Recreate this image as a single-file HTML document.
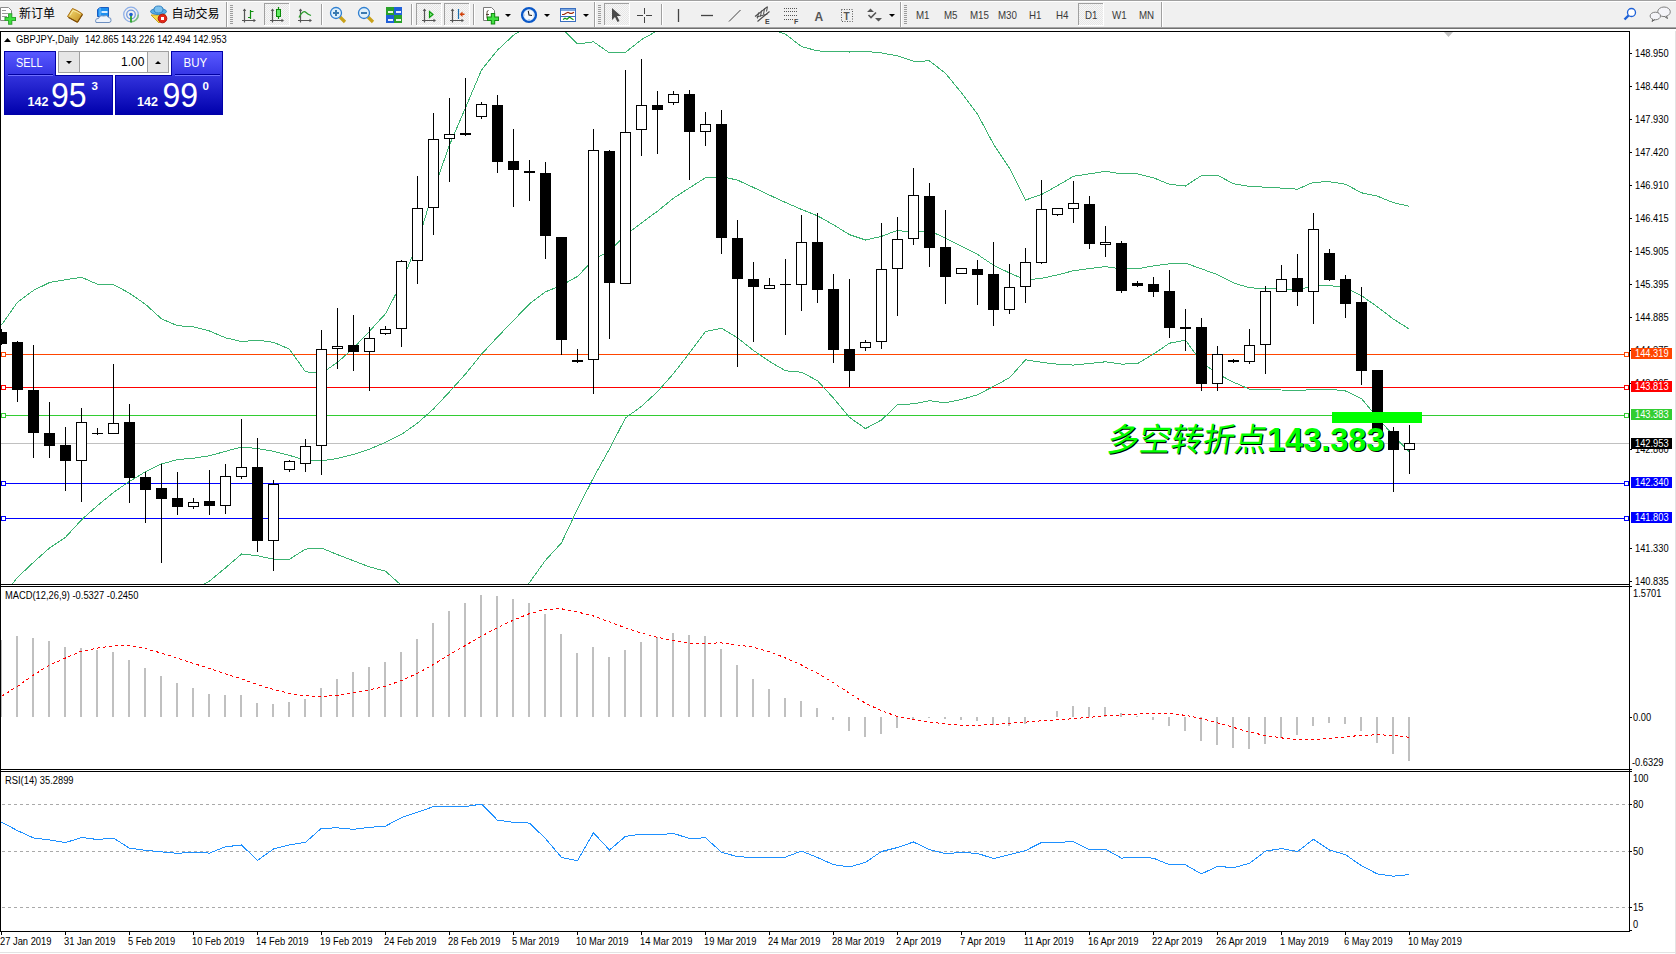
<!DOCTYPE html>
<html><head><meta charset="utf-8"><title>GBPJPY Daily</title>
<style>
html,body{margin:0;padding:0;background:#fff;}
body{width:1676px;height:954px;position:relative;overflow:hidden;}
svg text{white-space:pre;}
</style></head><body>
<svg width="1676" height="954" viewBox="0 0 1676 954" style="position:absolute;left:0;top:0">
<defs><clipPath id="cm"><rect x="1" y="32" width="1628" height="552"/></clipPath><clipPath id="cmacd"><rect x="1" y="587" width="1628" height="182"/></clipPath><clipPath id="crsi"><rect x="1" y="772" width="1628" height="159"/></clipPath></defs>
<g shape-rendering="crispEdges">
<rect x="1" y="443" width="1628" height="1" fill="#C0C0C0"/>
<rect x="1" y="354" width="1628" height="1" fill="#FF4500"/>
<rect x="1.5" y="352.5" width="4" height="4" fill="#fff" stroke="#FF4500" stroke-width="1"/>
<rect x="1624.5" y="352.5" width="4" height="4" fill="#fff" stroke="#FF4500" stroke-width="1"/>
<rect x="1" y="387" width="1628" height="1" fill="#FF0000"/>
<rect x="1.5" y="385.5" width="4" height="4" fill="#fff" stroke="#FF0000" stroke-width="1"/>
<rect x="1624.5" y="385.5" width="4" height="4" fill="#fff" stroke="#FF0000" stroke-width="1"/>
<rect x="1" y="415" width="1628" height="1" fill="#32CD32"/>
<rect x="1.5" y="413.5" width="4" height="4" fill="#fff" stroke="#32CD32" stroke-width="1"/>
<rect x="1624.5" y="413.5" width="4" height="4" fill="#fff" stroke="#32CD32" stroke-width="1"/>
<rect x="1" y="483" width="1628" height="1" fill="#0000FF"/>
<rect x="1.5" y="481.5" width="4" height="4" fill="#fff" stroke="#0000FF" stroke-width="1"/>
<rect x="1624.5" y="481.5" width="4" height="4" fill="#fff" stroke="#0000FF" stroke-width="1"/>
<rect x="1" y="518" width="1628" height="1" fill="#0000FF"/>
<rect x="1.5" y="516.5" width="4" height="4" fill="#fff" stroke="#0000FF" stroke-width="1"/>
<rect x="1624.5" y="516.5" width="4" height="4" fill="#fff" stroke="#0000FF" stroke-width="1"/>
</g>
<g clip-path="url(#cm)" fill="none" stroke="#3CB371" stroke-width="1" shape-rendering="crispEdges">
<polyline points="1.5,325.0 17.5,302.2 33.5,290.4 49.5,282.5 65.5,279.7 81.5,277.3 97.5,284.2 113.5,284.6 129.5,293.2 145.5,304.3 161.5,318.8 177.5,325.7 193.5,326.8 209.5,331.0 225.5,337.8 241.5,341.6 257.5,340.2 273.5,342.3 289.5,349.2 305.5,371.8 321.5,373.3 337.5,362.4 353.5,348.1 369.5,331.2 385.5,313.7 401.5,283.3 417.5,242.7 433.5,190.1 449.5,145.0 465.5,107.8 481.5,70.0 497.5,50.1 513.5,35.2 529.5,25.0 545.5,23.2 561.5,28.0 577.5,44.0 593.5,41.8 609.5,52.9 625.5,52.3 641.5,39.6 657.5,30.6 673.5,23.0 689.5,22.9 705.5,23.9 721.5,24.9 737.5,22.4 753.5,24.5 769.5,28.7 785.5,34.2 801.5,46.6 817.5,50.9 833.5,51.5 849.5,52.0 865.5,51.4 881.5,52.9 897.5,55.9 913.5,61.3 929.5,60.9 945.5,73.3 961.5,92.9 977.5,114.1 993.5,144.1 1009.5,168.2 1025.5,200.0 1041.5,194.6 1057.5,185.6 1073.5,176.3 1089.5,173.8 1105.5,171.3 1121.5,173.9 1137.5,173.9 1153.5,177.8 1169.5,184.3 1185.5,186.0 1201.5,175.5 1217.5,175.3 1233.5,183.7 1249.5,186.4 1265.5,187.2 1281.5,188.1 1297.5,189.2 1313.5,182.2 1329.5,181.8 1345.5,184.2 1361.5,192.8 1377.5,196.2 1393.5,202.7 1409.5,206.3"/>
<polyline points="1.5,598.0 17.5,577.4 33.5,562.3 49.5,548.0 65.5,537.3 81.5,519.8 97.5,505.6 113.5,492.4 129.5,481.4 145.5,471.7 161.5,464.0 177.5,459.6 193.5,458.2 209.5,455.8 225.5,451.3 241.5,447.1 257.5,448.5 273.5,451.3 289.5,455.4 305.5,460.4 321.5,460.7 337.5,458.5 353.5,454.4 369.5,449.1 385.5,442.4 401.5,434.4 417.5,423.1 433.5,408.9 449.5,391.8 465.5,374.0 481.5,354.2 497.5,337.0 513.5,320.4 529.5,303.8 545.5,291.8 561.5,285.4 577.5,276.4 593.5,259.8 609.5,250.8 625.5,235.2 641.5,222.9 657.5,211.2 673.5,198.2 689.5,187.9 705.5,177.7 721.5,176.6 737.5,180.1 753.5,187.5 769.5,195.1 785.5,202.5 801.5,209.4 817.5,215.8 833.5,224.8 849.5,234.7 865.5,240.0 881.5,236.4 897.5,230.3 913.5,232.6 929.5,230.8 945.5,238.1 961.5,246.2 977.5,254.4 993.5,265.2 1009.5,273.0 1025.5,279.9 1041.5,278.4 1057.5,274.9 1073.5,270.7 1089.5,268.6 1105.5,266.6 1121.5,269.0 1137.5,268.8 1153.5,265.9 1169.5,263.8 1185.5,263.1 1201.5,268.9 1217.5,274.6 1233.5,282.9 1249.5,287.8 1265.5,288.5 1281.5,289.1 1297.5,289.9 1313.5,285.9 1329.5,285.5 1345.5,287.6 1361.5,295.7 1377.5,306.9 1393.5,319.2 1409.5,329.2"/>
<polyline points="1.5,700.0 17.5,680.0 33.5,660.0 49.5,640.0 65.5,625.0 81.5,612.0 97.5,605.0 113.5,600.0 129.5,598.0 145.5,598.0 161.5,598.0 177.5,596.0 193.5,590.0 209.5,581.0 225.5,567.9 241.5,554.0 257.5,555.7 273.5,559.2 289.5,559.2 305.5,549.1 321.5,548.1 337.5,554.6 353.5,560.8 369.5,566.9 385.5,571.2 401.5,585.5 417.5,603.6 433.5,627.8 449.5,638.5 465.5,640.2 481.5,638.5 497.5,623.9 513.5,605.6 529.5,582.5 545.5,560.3 561.5,542.8 577.5,508.9 593.5,477.7 609.5,448.8 625.5,418.0 641.5,406.3 657.5,391.7 673.5,373.5 689.5,353.0 705.5,331.5 721.5,328.2 737.5,337.8 753.5,350.5 769.5,361.4 785.5,370.8 801.5,372.2 817.5,380.7 833.5,398.1 849.5,417.4 865.5,428.6 881.5,420.0 897.5,404.7 913.5,403.8 929.5,400.7 945.5,402.8 961.5,399.5 977.5,394.8 993.5,386.4 1009.5,377.8 1025.5,359.8 1041.5,362.3 1057.5,364.2 1073.5,365.1 1089.5,363.5 1105.5,361.8 1121.5,364.1 1137.5,363.7 1153.5,354.0 1169.5,343.2 1185.5,340.2 1201.5,362.2 1217.5,373.9 1233.5,382.2 1249.5,389.2 1265.5,389.8 1281.5,390.0 1297.5,390.6 1313.5,389.5 1329.5,389.2 1345.5,391.0 1361.5,398.6 1377.5,417.6 1393.5,435.8 1409.5,452.1"/>
</g>
<g clip-path="url(#cm)" shape-rendering="crispEdges">
<rect x="1" y="329" width="1" height="16" fill="#000"/>
<rect x="-4" y="332" width="11" height="12" fill="#000"/>
<rect x="17" y="341" width="1" height="61" fill="#000"/>
<rect x="12" y="342" width="11" height="48" fill="#000"/>
<rect x="33" y="345" width="1" height="113" fill="#000"/>
<rect x="28" y="390" width="11" height="43" fill="#000"/>
<rect x="49" y="402" width="1" height="56" fill="#000"/>
<rect x="44" y="433" width="11" height="13" fill="#000"/>
<rect x="65" y="427" width="1" height="64" fill="#000"/>
<rect x="60" y="445" width="11" height="16" fill="#000"/>
<rect x="81" y="408" width="1" height="94" fill="#000"/>
<rect x="76" y="422" width="11" height="39" fill="#000"/>
<rect x="77" y="423" width="9" height="37" fill="#fff"/>
<rect x="97" y="428" width="1" height="7" fill="#000"/>
<rect x="92" y="433" width="11" height="1" fill="#000"/>
<rect x="113" y="364" width="1" height="70" fill="#000"/>
<rect x="108" y="423" width="11" height="11" fill="#000"/>
<rect x="109" y="424" width="9" height="9" fill="#fff"/>
<rect x="129" y="404" width="1" height="99" fill="#000"/>
<rect x="124" y="422" width="11" height="56" fill="#000"/>
<rect x="145" y="472" width="1" height="51" fill="#000"/>
<rect x="140" y="477" width="11" height="13" fill="#000"/>
<rect x="161" y="464" width="1" height="99" fill="#000"/>
<rect x="156" y="488" width="11" height="11" fill="#000"/>
<rect x="177" y="472" width="1" height="43" fill="#000"/>
<rect x="172" y="498" width="11" height="9" fill="#000"/>
<rect x="193" y="498" width="1" height="11" fill="#000"/>
<rect x="188" y="502" width="11" height="5" fill="#000"/>
<rect x="189" y="503" width="9" height="3" fill="#fff"/>
<rect x="209" y="470" width="1" height="45" fill="#000"/>
<rect x="204" y="501" width="11" height="5" fill="#000"/>
<rect x="225" y="464" width="1" height="50" fill="#000"/>
<rect x="220" y="476" width="11" height="30" fill="#000"/>
<rect x="221" y="477" width="9" height="28" fill="#fff"/>
<rect x="241" y="419" width="1" height="60" fill="#000"/>
<rect x="236" y="467" width="11" height="10" fill="#000"/>
<rect x="237" y="468" width="9" height="8" fill="#fff"/>
<rect x="257" y="438" width="1" height="114" fill="#000"/>
<rect x="252" y="467" width="11" height="74" fill="#000"/>
<rect x="273" y="480" width="1" height="91" fill="#000"/>
<rect x="268" y="484" width="11" height="57" fill="#000"/>
<rect x="269" y="485" width="9" height="55" fill="#fff"/>
<rect x="289" y="460" width="1" height="12" fill="#000"/>
<rect x="284" y="461" width="11" height="9" fill="#000"/>
<rect x="285" y="462" width="9" height="7" fill="#fff"/>
<rect x="305" y="439" width="1" height="33" fill="#000"/>
<rect x="300" y="446" width="11" height="18" fill="#000"/>
<rect x="301" y="447" width="9" height="16" fill="#fff"/>
<rect x="321" y="330" width="1" height="145" fill="#000"/>
<rect x="316" y="349" width="11" height="97" fill="#000"/>
<rect x="317" y="350" width="9" height="95" fill="#fff"/>
<rect x="337" y="308" width="1" height="61" fill="#000"/>
<rect x="332" y="346" width="11" height="3" fill="#000"/>
<rect x="333" y="347" width="9" height="1" fill="#fff"/>
<rect x="353" y="315" width="1" height="56" fill="#000"/>
<rect x="348" y="345" width="11" height="7" fill="#000"/>
<rect x="369" y="327" width="1" height="64" fill="#000"/>
<rect x="364" y="338" width="11" height="14" fill="#000"/>
<rect x="365" y="339" width="9" height="12" fill="#fff"/>
<rect x="385" y="326" width="1" height="9" fill="#000"/>
<rect x="380" y="329" width="11" height="5" fill="#000"/>
<rect x="381" y="330" width="9" height="3" fill="#fff"/>
<rect x="401" y="260" width="1" height="87" fill="#000"/>
<rect x="396" y="261" width="11" height="68" fill="#000"/>
<rect x="397" y="262" width="9" height="66" fill="#fff"/>
<rect x="417" y="176" width="1" height="108" fill="#000"/>
<rect x="412" y="208" width="11" height="53" fill="#000"/>
<rect x="413" y="209" width="9" height="51" fill="#fff"/>
<rect x="433" y="113" width="1" height="122" fill="#000"/>
<rect x="428" y="139" width="11" height="69" fill="#000"/>
<rect x="429" y="140" width="9" height="67" fill="#fff"/>
<rect x="449" y="98" width="1" height="84" fill="#000"/>
<rect x="444" y="134" width="11" height="5" fill="#000"/>
<rect x="445" y="135" width="9" height="3" fill="#fff"/>
<rect x="465" y="78" width="1" height="58" fill="#000"/>
<rect x="460" y="133" width="11" height="2" fill="#000"/>
<rect x="481" y="102" width="1" height="17" fill="#000"/>
<rect x="476" y="104" width="11" height="13" fill="#000"/>
<rect x="477" y="105" width="9" height="11" fill="#fff"/>
<rect x="497" y="95" width="1" height="78" fill="#000"/>
<rect x="492" y="105" width="11" height="57" fill="#000"/>
<rect x="513" y="129" width="1" height="78" fill="#000"/>
<rect x="508" y="161" width="11" height="9" fill="#000"/>
<rect x="529" y="160" width="1" height="41" fill="#000"/>
<rect x="524" y="171" width="11" height="2" fill="#000"/>
<rect x="545" y="162" width="1" height="97" fill="#000"/>
<rect x="540" y="173" width="11" height="63" fill="#000"/>
<rect x="561" y="237" width="1" height="118" fill="#000"/>
<rect x="556" y="237" width="11" height="103" fill="#000"/>
<rect x="577" y="349" width="1" height="14" fill="#000"/>
<rect x="572" y="360" width="11" height="2" fill="#000"/>
<rect x="593" y="129" width="1" height="265" fill="#000"/>
<rect x="588" y="150" width="11" height="210" fill="#000"/>
<rect x="589" y="151" width="9" height="208" fill="#fff"/>
<rect x="609" y="150" width="1" height="189" fill="#000"/>
<rect x="604" y="151" width="11" height="132" fill="#000"/>
<rect x="625" y="70" width="1" height="214" fill="#000"/>
<rect x="620" y="132" width="11" height="152" fill="#000"/>
<rect x="621" y="133" width="9" height="150" fill="#fff"/>
<rect x="641" y="59" width="1" height="97" fill="#000"/>
<rect x="636" y="105" width="11" height="25" fill="#000"/>
<rect x="637" y="106" width="9" height="23" fill="#fff"/>
<rect x="657" y="91" width="1" height="63" fill="#000"/>
<rect x="652" y="105" width="11" height="5" fill="#000"/>
<rect x="673" y="91" width="1" height="14" fill="#000"/>
<rect x="668" y="94" width="11" height="9" fill="#000"/>
<rect x="669" y="95" width="9" height="7" fill="#fff"/>
<rect x="689" y="90" width="1" height="90" fill="#000"/>
<rect x="684" y="94" width="11" height="38" fill="#000"/>
<rect x="705" y="112" width="1" height="34" fill="#000"/>
<rect x="700" y="124" width="11" height="8" fill="#000"/>
<rect x="701" y="125" width="9" height="6" fill="#fff"/>
<rect x="721" y="110" width="1" height="144" fill="#000"/>
<rect x="716" y="124" width="11" height="114" fill="#000"/>
<rect x="737" y="220" width="1" height="147" fill="#000"/>
<rect x="732" y="238" width="11" height="41" fill="#000"/>
<rect x="753" y="262" width="1" height="80" fill="#000"/>
<rect x="748" y="279" width="11" height="8" fill="#000"/>
<rect x="769" y="278" width="1" height="11" fill="#000"/>
<rect x="764" y="285" width="11" height="4" fill="#000"/>
<rect x="765" y="286" width="9" height="2" fill="#fff"/>
<rect x="785" y="259" width="1" height="76" fill="#000"/>
<rect x="780" y="284" width="11" height="1" fill="#000"/>
<rect x="801" y="215" width="1" height="96" fill="#000"/>
<rect x="796" y="242" width="11" height="43" fill="#000"/>
<rect x="797" y="243" width="9" height="41" fill="#fff"/>
<rect x="817" y="213" width="1" height="90" fill="#000"/>
<rect x="812" y="242" width="11" height="48" fill="#000"/>
<rect x="833" y="274" width="1" height="89" fill="#000"/>
<rect x="828" y="289" width="11" height="61" fill="#000"/>
<rect x="849" y="279" width="1" height="108" fill="#000"/>
<rect x="844" y="349" width="11" height="22" fill="#000"/>
<rect x="865" y="340" width="1" height="11" fill="#000"/>
<rect x="860" y="342" width="11" height="6" fill="#000"/>
<rect x="861" y="343" width="9" height="4" fill="#fff"/>
<rect x="881" y="223" width="1" height="126" fill="#000"/>
<rect x="876" y="269" width="11" height="73" fill="#000"/>
<rect x="877" y="270" width="9" height="71" fill="#fff"/>
<rect x="897" y="217" width="1" height="99" fill="#000"/>
<rect x="892" y="239" width="11" height="30" fill="#000"/>
<rect x="893" y="240" width="9" height="28" fill="#fff"/>
<rect x="913" y="168" width="1" height="77" fill="#000"/>
<rect x="908" y="195" width="11" height="44" fill="#000"/>
<rect x="909" y="196" width="9" height="42" fill="#fff"/>
<rect x="929" y="183" width="1" height="84" fill="#000"/>
<rect x="924" y="196" width="11" height="52" fill="#000"/>
<rect x="945" y="210" width="1" height="94" fill="#000"/>
<rect x="940" y="247" width="11" height="30" fill="#000"/>
<rect x="961" y="268" width="1" height="6" fill="#000"/>
<rect x="956" y="268" width="11" height="6" fill="#000"/>
<rect x="957" y="269" width="9" height="4" fill="#fff"/>
<rect x="977" y="260" width="1" height="45" fill="#000"/>
<rect x="972" y="269" width="11" height="6" fill="#000"/>
<rect x="993" y="242" width="1" height="84" fill="#000"/>
<rect x="988" y="274" width="11" height="36" fill="#000"/>
<rect x="1009" y="264" width="1" height="50" fill="#000"/>
<rect x="1004" y="287" width="11" height="23" fill="#000"/>
<rect x="1005" y="288" width="9" height="21" fill="#fff"/>
<rect x="1025" y="248" width="1" height="55" fill="#000"/>
<rect x="1020" y="262" width="11" height="25" fill="#000"/>
<rect x="1021" y="263" width="9" height="23" fill="#fff"/>
<rect x="1041" y="180" width="1" height="84" fill="#000"/>
<rect x="1036" y="209" width="11" height="54" fill="#000"/>
<rect x="1037" y="210" width="9" height="52" fill="#fff"/>
<rect x="1057" y="208" width="1" height="8" fill="#000"/>
<rect x="1052" y="208" width="11" height="7" fill="#000"/>
<rect x="1053" y="209" width="9" height="5" fill="#fff"/>
<rect x="1073" y="181" width="1" height="42" fill="#000"/>
<rect x="1068" y="203" width="11" height="6" fill="#000"/>
<rect x="1069" y="204" width="9" height="4" fill="#fff"/>
<rect x="1089" y="196" width="1" height="53" fill="#000"/>
<rect x="1084" y="204" width="11" height="40" fill="#000"/>
<rect x="1105" y="226" width="1" height="31" fill="#000"/>
<rect x="1100" y="242" width="11" height="3" fill="#000"/>
<rect x="1101" y="243" width="9" height="1" fill="#fff"/>
<rect x="1121" y="241" width="1" height="52" fill="#000"/>
<rect x="1116" y="243" width="11" height="48" fill="#000"/>
<rect x="1137" y="281" width="1" height="6" fill="#000"/>
<rect x="1132" y="283" width="11" height="3" fill="#000"/>
<rect x="1153" y="277" width="1" height="20" fill="#000"/>
<rect x="1148" y="284" width="11" height="8" fill="#000"/>
<rect x="1169" y="270" width="1" height="68" fill="#000"/>
<rect x="1164" y="291" width="11" height="37" fill="#000"/>
<rect x="1185" y="309" width="1" height="42" fill="#000"/>
<rect x="1180" y="327" width="11" height="2" fill="#000"/>
<rect x="1201" y="318" width="1" height="73" fill="#000"/>
<rect x="1196" y="327" width="11" height="57" fill="#000"/>
<rect x="1217" y="346" width="1" height="45" fill="#000"/>
<rect x="1212" y="354" width="11" height="30" fill="#000"/>
<rect x="1213" y="355" width="9" height="28" fill="#fff"/>
<rect x="1233" y="359" width="1" height="4" fill="#000"/>
<rect x="1228" y="360" width="11" height="2" fill="#000"/>
<rect x="1249" y="329" width="1" height="35" fill="#000"/>
<rect x="1244" y="345" width="11" height="17" fill="#000"/>
<rect x="1245" y="346" width="9" height="15" fill="#fff"/>
<rect x="1265" y="286" width="1" height="88" fill="#000"/>
<rect x="1260" y="291" width="11" height="54" fill="#000"/>
<rect x="1261" y="292" width="9" height="52" fill="#fff"/>
<rect x="1281" y="265" width="1" height="27" fill="#000"/>
<rect x="1276" y="279" width="11" height="13" fill="#000"/>
<rect x="1277" y="280" width="9" height="11" fill="#fff"/>
<rect x="1297" y="254" width="1" height="52" fill="#000"/>
<rect x="1292" y="278" width="11" height="14" fill="#000"/>
<rect x="1313" y="213" width="1" height="111" fill="#000"/>
<rect x="1308" y="229" width="11" height="63" fill="#000"/>
<rect x="1309" y="230" width="9" height="61" fill="#fff"/>
<rect x="1329" y="249" width="1" height="32" fill="#000"/>
<rect x="1324" y="253" width="11" height="27" fill="#000"/>
<rect x="1345" y="275" width="1" height="43" fill="#000"/>
<rect x="1340" y="279" width="11" height="25" fill="#000"/>
<rect x="1361" y="287" width="1" height="98" fill="#000"/>
<rect x="1356" y="302" width="11" height="69" fill="#000"/>
<rect x="1377" y="370" width="1" height="62" fill="#000"/>
<rect x="1372" y="370" width="11" height="62" fill="#000"/>
<rect x="1393" y="427" width="1" height="65" fill="#000"/>
<rect x="1388" y="431" width="11" height="19" fill="#000"/>
<rect x="1409" y="425" width="1" height="49" fill="#000"/>
<rect x="1404" y="443" width="11" height="7" fill="#000"/>
<rect x="1405" y="444" width="9" height="5" fill="#fff"/>
</g>
<g clip-path="url(#cmacd)" shape-rendering="crispEdges">
<rect x="0" y="640" width="2" height="77" fill="#C0C0C0"/>
<rect x="16" y="636" width="2" height="81" fill="#C0C0C0"/>
<rect x="32" y="638" width="2" height="79" fill="#C0C0C0"/>
<rect x="48" y="641" width="2" height="76" fill="#C0C0C0"/>
<rect x="64" y="647" width="2" height="70" fill="#C0C0C0"/>
<rect x="80" y="648" width="2" height="69" fill="#C0C0C0"/>
<rect x="96" y="650" width="2" height="67" fill="#C0C0C0"/>
<rect x="112" y="652" width="2" height="65" fill="#C0C0C0"/>
<rect x="128" y="660" width="2" height="57" fill="#C0C0C0"/>
<rect x="144" y="668" width="2" height="49" fill="#C0C0C0"/>
<rect x="160" y="676" width="2" height="41" fill="#C0C0C0"/>
<rect x="176" y="683" width="2" height="34" fill="#C0C0C0"/>
<rect x="192" y="688" width="2" height="29" fill="#C0C0C0"/>
<rect x="208" y="694" width="2" height="23" fill="#C0C0C0"/>
<rect x="224" y="695" width="2" height="22" fill="#C0C0C0"/>
<rect x="240" y="695" width="2" height="22" fill="#C0C0C0"/>
<rect x="256" y="703" width="2" height="14" fill="#C0C0C0"/>
<rect x="272" y="704" width="2" height="13" fill="#C0C0C0"/>
<rect x="288" y="702" width="2" height="15" fill="#C0C0C0"/>
<rect x="304" y="699" width="2" height="18" fill="#C0C0C0"/>
<rect x="320" y="688" width="2" height="29" fill="#C0C0C0"/>
<rect x="336" y="679" width="2" height="38" fill="#C0C0C0"/>
<rect x="352" y="672" width="2" height="45" fill="#C0C0C0"/>
<rect x="368" y="667" width="2" height="50" fill="#C0C0C0"/>
<rect x="384" y="662" width="2" height="55" fill="#C0C0C0"/>
<rect x="400" y="652" width="2" height="65" fill="#C0C0C0"/>
<rect x="416" y="639" width="2" height="78" fill="#C0C0C0"/>
<rect x="432" y="623" width="2" height="94" fill="#C0C0C0"/>
<rect x="448" y="611" width="2" height="106" fill="#C0C0C0"/>
<rect x="464" y="603" width="2" height="114" fill="#C0C0C0"/>
<rect x="480" y="595" width="2" height="122" fill="#C0C0C0"/>
<rect x="496" y="596" width="2" height="121" fill="#C0C0C0"/>
<rect x="512" y="599" width="2" height="118" fill="#C0C0C0"/>
<rect x="528" y="603" width="2" height="114" fill="#C0C0C0"/>
<rect x="544" y="614" width="2" height="103" fill="#C0C0C0"/>
<rect x="560" y="634" width="2" height="83" fill="#C0C0C0"/>
<rect x="576" y="653" width="2" height="64" fill="#C0C0C0"/>
<rect x="592" y="647" width="2" height="70" fill="#C0C0C0"/>
<rect x="608" y="657" width="2" height="60" fill="#C0C0C0"/>
<rect x="624" y="650" width="2" height="67" fill="#C0C0C0"/>
<rect x="640" y="642" width="2" height="75" fill="#C0C0C0"/>
<rect x="656" y="637" width="2" height="80" fill="#C0C0C0"/>
<rect x="672" y="633" width="2" height="84" fill="#C0C0C0"/>
<rect x="688" y="635" width="2" height="82" fill="#C0C0C0"/>
<rect x="704" y="636" width="2" height="81" fill="#C0C0C0"/>
<rect x="720" y="649" width="2" height="68" fill="#C0C0C0"/>
<rect x="736" y="665" width="2" height="52" fill="#C0C0C0"/>
<rect x="752" y="679" width="2" height="38" fill="#C0C0C0"/>
<rect x="768" y="689" width="2" height="28" fill="#C0C0C0"/>
<rect x="784" y="698" width="2" height="19" fill="#C0C0C0"/>
<rect x="800" y="701" width="2" height="16" fill="#C0C0C0"/>
<rect x="816" y="708" width="2" height="9" fill="#C0C0C0"/>
<rect x="832" y="717" width="2" height="3" fill="#C0C0C0"/>
<rect x="848" y="717" width="2" height="14" fill="#C0C0C0"/>
<rect x="864" y="717" width="2" height="20" fill="#C0C0C0"/>
<rect x="880" y="717" width="2" height="17" fill="#C0C0C0"/>
<rect x="896" y="717" width="2" height="11" fill="#C0C0C0"/>
<rect x="912" y="717" width="2" height="2" fill="#C0C0C0"/>
<rect x="928" y="717" width="2" height="1" fill="#C0C0C0"/>
<rect x="944" y="717" width="2" height="2" fill="#C0C0C0"/>
<rect x="960" y="717" width="2" height="3" fill="#C0C0C0"/>
<rect x="976" y="717" width="2" height="4" fill="#C0C0C0"/>
<rect x="992" y="717" width="2" height="8" fill="#C0C0C0"/>
<rect x="1008" y="717" width="2" height="9" fill="#C0C0C0"/>
<rect x="1024" y="717" width="2" height="7" fill="#C0C0C0"/>
<rect x="1040" y="717" width="2" height="0" fill="#C0C0C0"/>
<rect x="1056" y="711" width="2" height="6" fill="#C0C0C0"/>
<rect x="1072" y="706" width="2" height="11" fill="#C0C0C0"/>
<rect x="1088" y="707" width="2" height="10" fill="#C0C0C0"/>
<rect x="1104" y="707" width="2" height="10" fill="#C0C0C0"/>
<rect x="1120" y="713" width="2" height="4" fill="#C0C0C0"/>
<rect x="1136" y="716" width="2" height="1" fill="#C0C0C0"/>
<rect x="1152" y="717" width="2" height="3" fill="#C0C0C0"/>
<rect x="1168" y="717" width="2" height="9" fill="#C0C0C0"/>
<rect x="1184" y="717" width="2" height="14" fill="#C0C0C0"/>
<rect x="1200" y="717" width="2" height="24" fill="#C0C0C0"/>
<rect x="1216" y="717" width="2" height="28" fill="#C0C0C0"/>
<rect x="1232" y="717" width="2" height="31" fill="#C0C0C0"/>
<rect x="1248" y="717" width="2" height="32" fill="#C0C0C0"/>
<rect x="1264" y="717" width="2" height="27" fill="#C0C0C0"/>
<rect x="1280" y="717" width="2" height="21" fill="#C0C0C0"/>
<rect x="1296" y="717" width="2" height="18" fill="#C0C0C0"/>
<rect x="1312" y="717" width="2" height="9" fill="#C0C0C0"/>
<rect x="1328" y="717" width="2" height="6" fill="#C0C0C0"/>
<rect x="1344" y="717" width="2" height="7" fill="#C0C0C0"/>
<rect x="1360" y="717" width="2" height="14" fill="#C0C0C0"/>
<rect x="1376" y="717" width="2" height="26" fill="#C0C0C0"/>
<rect x="1392" y="717" width="2" height="37" fill="#C0C0C0"/>
<rect x="1408" y="717" width="2" height="44" fill="#C0C0C0"/>
<polyline points="1.5,696.3 17.5,686.3 33.5,675.1 49.5,665.0 65.5,658.0 81.5,651.2 97.5,648.1 113.5,645.8 129.5,645.6 145.5,648.7 161.5,653.1 177.5,658.2 193.5,663.4 209.5,668.6 225.5,673.9 241.5,678.9 257.5,684.6 273.5,689.5 289.5,693.3 305.5,695.9 321.5,696.5 337.5,695.4 353.5,693.0 369.5,689.9 385.5,686.2 401.5,680.5 417.5,673.3 433.5,664.5 449.5,654.8 465.5,645.4 481.5,636.1 497.5,627.7 513.5,620.1 529.5,613.6 545.5,609.4 561.5,608.8 577.5,612.0 593.5,616.0 609.5,621.9 625.5,627.9 641.5,633.0 657.5,637.3 673.5,640.7 689.5,643.0 705.5,643.2 721.5,642.9 737.5,644.9 753.5,647.3 769.5,651.7 785.5,658.0 801.5,665.0 817.5,673.3 833.5,682.8 849.5,693.4 865.5,703.2 881.5,710.9 897.5,716.4 913.5,719.8 929.5,721.9 945.5,724.0 961.5,725.3 977.5,725.3 993.5,724.6 1009.5,723.3 1025.5,722.1 1041.5,720.8 1057.5,719.9 1073.5,718.7 1089.5,717.3 1105.5,715.9 1121.5,715.0 1137.5,714.1 1153.5,713.4 1169.5,713.7 1185.5,715.3 1201.5,718.6 1217.5,722.8 1233.5,727.4 1249.5,732.1 1265.5,735.5 1281.5,737.9 1297.5,739.6 1313.5,739.5 1329.5,738.7 1345.5,736.8 1361.5,735.4 1377.5,734.8 1393.5,735.3 1409.5,737.3" fill="none" stroke="#FF0000" stroke-width="1" stroke-dasharray="3 3"/>
</g>
<g clip-path="url(#crsi)" shape-rendering="crispEdges">
<line x1="2" y1="804.5" x2="1629" y2="804.5" stroke="#A9A9A9" stroke-width="1" stroke-dasharray="3 3"/>
<line x1="2" y1="851.5" x2="1629" y2="851.5" stroke="#A9A9A9" stroke-width="1" stroke-dasharray="3 3"/>
<line x1="2" y1="907.5" x2="1629" y2="907.5" stroke="#A9A9A9" stroke-width="1" stroke-dasharray="3 3"/>
<polyline points="1.5,822.2 17.5,830.6 33.5,837.9 49.5,840.0 65.5,842.6 81.5,837.5 97.5,839.5 113.5,838.1 129.5,848.2 145.5,850.3 161.5,851.9 177.5,853.3 193.5,852.3 209.5,853.1 225.5,846.8 241.5,845.0 257.5,860.4 273.5,849.0 289.5,844.9 305.5,842.3 321.5,828.2 337.5,827.9 353.5,829.3 369.5,827.4 385.5,826.1 401.5,817.6 417.5,812.3 433.5,806.6 449.5,806.2 465.5,806.5 481.5,804.1 497.5,820.2 513.5,822.3 529.5,823.1 545.5,838.6 561.5,857.4 577.5,860.7 593.5,832.8 609.5,850.0 625.5,836.3 641.5,834.2 657.5,834.8 673.5,833.4 689.5,838.6 705.5,837.8 721.5,852.2 737.5,856.7 753.5,857.5 769.5,857.3 785.5,857.1 801.5,851.1 817.5,857.5 833.5,864.7 849.5,867.0 865.5,862.3 881.5,851.5 897.5,847.5 913.5,842.0 929.5,849.7 945.5,853.7 961.5,852.4 977.5,853.4 993.5,858.6 1009.5,854.7 1025.5,850.6 1041.5,842.5 1057.5,842.4 1073.5,841.6 1089.5,849.6 1105.5,849.2 1121.5,858.1 1137.5,857.1 1153.5,858.2 1169.5,864.7 1185.5,864.9 1201.5,873.9 1217.5,866.3 1233.5,867.7 1249.5,863.3 1265.5,851.1 1281.5,848.6 1297.5,851.5 1313.5,839.3 1329.5,850.1 1345.5,854.7 1361.5,865.8 1377.5,874.0 1393.5,876.2 1409.5,874.5" fill="none" stroke="#1E90FF" stroke-width="1"/>
</g>
<g shape-rendering="crispEdges" fill="#000">
<rect x="0" y="31" width="1630" height="1"/>
<rect x="0" y="31" width="1" height="901"/>
<rect x="1629" y="31" width="1" height="901"/>
<rect x="0" y="584" width="1630" height="1"/>
<rect x="0" y="586" width="1630" height="1"/>
<rect x="0" y="769" width="1630" height="1"/>
<rect x="0" y="771" width="1630" height="1"/>
<rect x="0" y="931" width="1630" height="1"/>
</g>
<defs><clipPath id="cax"><rect x="1630" y="30" width="46" height="556"/></clipPath></defs>
<g font-family="Liberation Sans, DejaVu Sans, sans-serif" font-size="10" fill="#000" clip-path="url(#cax)">
<rect x="1630" y="53" width="2" height="1" shape-rendering="crispEdges"/>
<text transform="translate(1635,57) scale(0.93,1)" >148.950</text>
<rect x="1630" y="86" width="2" height="1" shape-rendering="crispEdges"/>
<text transform="translate(1635,90) scale(0.93,1)" >148.440</text>
<rect x="1630" y="119" width="2" height="1" shape-rendering="crispEdges"/>
<text transform="translate(1635,123) scale(0.93,1)" >147.930</text>
<rect x="1630" y="152" width="2" height="1" shape-rendering="crispEdges"/>
<text transform="translate(1635,156) scale(0.93,1)" >147.420</text>
<rect x="1630" y="185" width="2" height="1" shape-rendering="crispEdges"/>
<text transform="translate(1635,189) scale(0.93,1)" >146.910</text>
<rect x="1630" y="218" width="2" height="1" shape-rendering="crispEdges"/>
<text transform="translate(1635,222) scale(0.93,1)" >146.415</text>
<rect x="1630" y="251" width="2" height="1" shape-rendering="crispEdges"/>
<text transform="translate(1635,255) scale(0.93,1)" >145.905</text>
<rect x="1630" y="284" width="2" height="1" shape-rendering="crispEdges"/>
<text transform="translate(1635,288) scale(0.93,1)" >145.395</text>
<rect x="1630" y="317" width="2" height="1" shape-rendering="crispEdges"/>
<text transform="translate(1635,321) scale(0.93,1)" >144.885</text>
<rect x="1630" y="350" width="2" height="1" shape-rendering="crispEdges"/>
<text transform="translate(1635,354) scale(0.93,1)" >144.375</text>
<rect x="1630" y="383" width="2" height="1" shape-rendering="crispEdges"/>
<text transform="translate(1635,387) scale(0.93,1)" >143.865</text>
<rect x="1630" y="449" width="2" height="1" shape-rendering="crispEdges"/>
<text transform="translate(1635,453) scale(0.93,1)" >142.860</text>
<rect x="1630" y="548" width="2" height="1" shape-rendering="crispEdges"/>
<text transform="translate(1635,552) scale(0.93,1)" >141.330</text>
<rect x="1630" y="581" width="2" height="1" shape-rendering="crispEdges"/>
<text transform="translate(1635,585) scale(0.93,1)" >140.835</text>
</g>
<g font-family="Liberation Sans, DejaVu Sans, sans-serif" font-size="10">
<rect x="1631" y="348" width="41" height="11" fill="#FF4500" shape-rendering="crispEdges"/>
<text transform="translate(1635,357) scale(0.93,1)" fill="#fff">144.319</text>
<rect x="1631" y="381" width="41" height="11" fill="#FF0000" shape-rendering="crispEdges"/>
<text transform="translate(1635,390) scale(0.93,1)" fill="#fff">143.813</text>
<rect x="1631" y="409" width="41" height="11" fill="#32CD32" shape-rendering="crispEdges"/>
<text transform="translate(1635,418) scale(0.93,1)" fill="#fff">143.383</text>
<rect x="1631" y="438" width="41" height="11" fill="#000000" shape-rendering="crispEdges"/>
<text transform="translate(1635,447) scale(0.93,1)" fill="#fff">142.953</text>
<rect x="1631" y="477" width="41" height="11" fill="#0000FF" shape-rendering="crispEdges"/>
<text transform="translate(1635,486) scale(0.93,1)" fill="#fff">142.340</text>
<rect x="1631" y="512" width="41" height="11" fill="#0000FF" shape-rendering="crispEdges"/>
<text transform="translate(1635,521) scale(0.93,1)" fill="#fff">141.803</text>
</g>
<g font-family="Liberation Sans, DejaVu Sans, sans-serif" font-size="10" fill="#000">
<text transform="translate(1633,597) scale(0.93,1)" >1.5701</text>
<rect x="1630" y="717" width="2" height="1"/><text transform="translate(1633,721) scale(0.93,1)" >0.00</text>
<text transform="translate(1632,766) scale(0.93,1)" >-0.6329</text>
<text transform="translate(1633,782) scale(0.93,1)" >100</text>
<text transform="translate(1633,808) scale(0.93,1)" >80</text>
<text transform="translate(1633,855) scale(0.93,1)" >50</text>
<text transform="translate(1633,911) scale(0.93,1)" >15</text>
<text transform="translate(1633,928) scale(0.93,1)" >0</text>
<rect x="1630" y="586" width="2" height="1" shape-rendering="crispEdges"/>
<rect x="1630" y="769" width="2" height="1" shape-rendering="crispEdges"/>
<rect x="1630" y="771" width="2" height="1" shape-rendering="crispEdges"/>
<rect x="1630" y="804" width="2" height="1" shape-rendering="crispEdges"/>
<rect x="1630" y="851" width="2" height="1" shape-rendering="crispEdges"/>
<rect x="1630" y="907" width="2" height="1" shape-rendering="crispEdges"/>
<rect x="1630" y="930" width="2" height="1" shape-rendering="crispEdges"/>
</g>
<g font-family="Liberation Sans, DejaVu Sans, sans-serif" font-size="10" fill="#000">
<rect x="1" y="932" width="1" height="3" shape-rendering="crispEdges"/>
<text transform="translate(0,945) scale(0.935,1)" >27 Jan 2019</text>
<rect x="65" y="932" width="1" height="3" shape-rendering="crispEdges"/>
<text transform="translate(64,945) scale(0.935,1)" >31 Jan 2019</text>
<rect x="129" y="932" width="1" height="3" shape-rendering="crispEdges"/>
<text transform="translate(128,945) scale(0.935,1)" >5 Feb 2019</text>
<rect x="193" y="932" width="1" height="3" shape-rendering="crispEdges"/>
<text transform="translate(192,945) scale(0.935,1)" >10 Feb 2019</text>
<rect x="257" y="932" width="1" height="3" shape-rendering="crispEdges"/>
<text transform="translate(256,945) scale(0.935,1)" >14 Feb 2019</text>
<rect x="321" y="932" width="1" height="3" shape-rendering="crispEdges"/>
<text transform="translate(320,945) scale(0.935,1)" >19 Feb 2019</text>
<rect x="385" y="932" width="1" height="3" shape-rendering="crispEdges"/>
<text transform="translate(384,945) scale(0.935,1)" >24 Feb 2019</text>
<rect x="449" y="932" width="1" height="3" shape-rendering="crispEdges"/>
<text transform="translate(448,945) scale(0.935,1)" >28 Feb 2019</text>
<rect x="513" y="932" width="1" height="3" shape-rendering="crispEdges"/>
<text transform="translate(512,945) scale(0.935,1)" >5 Mar 2019</text>
<rect x="577" y="932" width="1" height="3" shape-rendering="crispEdges"/>
<text transform="translate(576,945) scale(0.935,1)" >10 Mar 2019</text>
<rect x="641" y="932" width="1" height="3" shape-rendering="crispEdges"/>
<text transform="translate(640,945) scale(0.935,1)" >14 Mar 2019</text>
<rect x="705" y="932" width="1" height="3" shape-rendering="crispEdges"/>
<text transform="translate(704,945) scale(0.935,1)" >19 Mar 2019</text>
<rect x="769" y="932" width="1" height="3" shape-rendering="crispEdges"/>
<text transform="translate(768,945) scale(0.935,1)" >24 Mar 2019</text>
<rect x="833" y="932" width="1" height="3" shape-rendering="crispEdges"/>
<text transform="translate(832,945) scale(0.935,1)" >28 Mar 2019</text>
<rect x="897" y="932" width="1" height="3" shape-rendering="crispEdges"/>
<text transform="translate(896,945) scale(0.935,1)" >2 Apr 2019</text>
<rect x="961" y="932" width="1" height="3" shape-rendering="crispEdges"/>
<text transform="translate(960,945) scale(0.935,1)" >7 Apr 2019</text>
<rect x="1025" y="932" width="1" height="3" shape-rendering="crispEdges"/>
<text transform="translate(1024,945) scale(0.935,1)" >11 Apr 2019</text>
<rect x="1089" y="932" width="1" height="3" shape-rendering="crispEdges"/>
<text transform="translate(1088,945) scale(0.935,1)" >16 Apr 2019</text>
<rect x="1153" y="932" width="1" height="3" shape-rendering="crispEdges"/>
<text transform="translate(1152,945) scale(0.935,1)" >22 Apr 2019</text>
<rect x="1217" y="932" width="1" height="3" shape-rendering="crispEdges"/>
<text transform="translate(1216,945) scale(0.935,1)" >26 Apr 2019</text>
<rect x="1281" y="932" width="1" height="3" shape-rendering="crispEdges"/>
<text transform="translate(1280,945) scale(0.935,1)" >1 May 2019</text>
<rect x="1345" y="932" width="1" height="3" shape-rendering="crispEdges"/>
<text transform="translate(1344,945) scale(0.935,1)" >6 May 2019</text>
<rect x="1409" y="932" width="1" height="3" shape-rendering="crispEdges"/>
<text transform="translate(1408,945) scale(0.935,1)" >10 May 2019</text>
</g>
<g font-family="Liberation Sans, DejaVu Sans, sans-serif" font-size="10" fill="#000">
<path d="M4 42 L11 42 L7.5 38 Z" fill="#000"/>
<text transform="translate(16,43) scale(0.935,1)" >GBPJPY-,Daily</text>
<text transform="translate(85,43) scale(0.93,1)" >142.865</text>
<text transform="translate(121,43) scale(0.93,1)" >143.226</text>
<text transform="translate(157,43) scale(0.93,1)" >142.494</text>
<text transform="translate(193,43) scale(0.93,1)" >142.953</text>
<text transform="translate(5,599) scale(0.935,1)" >MACD(12,26,9) -0.5327 -0.2450</text>
<text transform="translate(5,784) scale(0.935,1)" >RSI(14) 35.2899</text>
</g>
<path d="M1444 32 L1453 32 L1448.5 37 Z" fill="#C0C0C0"/>
<rect x="1332" y="412" width="90" height="11" fill="#00FF00" shape-rendering="crispEdges"/>
<g transform="translate(1107,452) skewX(-9)"><text x="0" y="0" font-family="Noto Sans CJK SC, WenQuanYi Zen Hei, sans-serif" font-size="32.5" font-weight="400" fill="#000" textLength="159" lengthAdjust="spacingAndGlyphs">多空转折点</text></g>
<text x="1268" y="451.5" font-family="Liberation Sans, sans-serif" font-size="32.5" font-weight="bold" fill="#000">143.383</text>
<g transform="translate(1106,451) skewX(-9)"><text x="0" y="0" font-family="Noto Sans CJK SC, WenQuanYi Zen Hei, sans-serif" font-size="32.5" font-weight="400" fill="#00FF00" textLength="159" lengthAdjust="spacingAndGlyphs">多空转折点</text></g>
<text x="1267" y="450.5" font-family="Liberation Sans, sans-serif" font-size="32.5" font-weight="bold" fill="#00FF00">143.383</text>
<rect x="1675" y="29" width="1" height="925" fill="#E3E3E3"/>
<rect x="0" y="952" width="1676" height="1" fill="#E3E3E3"/>
</svg>
<svg width="1676" height="31" viewBox="0 0 1676 31" style="position:absolute;left:0;top:0">
<defs><pattern id="dith" width="2" height="2" patternUnits="userSpaceOnUse"><rect width="2" height="2" fill="#f7f7f7"/><rect width="1" height="1" fill="#e6e6e6"/><rect x="1" y="1" width="1" height="1" fill="#e6e6e6"/></pattern><linearGradient id="gold" x1="0" y1="0" x2="1" y2="1"><stop offset="0" stop-color="#f8e27a"/><stop offset="1" stop-color="#c08a1a"/></linearGradient><radialGradient id="clk" cx="0.5" cy="0.45" r="0.55"><stop offset="0.6" stop-color="#fff"/><stop offset="1" stop-color="#cfe3f7"/></radialGradient></defs>
<g shape-rendering="crispEdges">
<rect x="0" y="0" width="1676" height="29" fill="#F0F0F0"/>
<rect x="0" y="0" width="1676" height="1" fill="#A0A0A0"/>
<rect x="0" y="1" width="1676" height="1" fill="#FFFFFF"/>
<rect x="0" y="27" width="1676" height="1" fill="#A5A5A5"/>
<rect x="0" y="28" width="1676" height="1" fill="#707070"/>
<rect x="0" y="29" width="1676" height="2" fill="#FFFFFF"/>
<rect x="226" y="2" width="1" height="25" fill="#A0A0A0"/><rect x="227" y="2" width="1" height="25" fill="#FFFFFF"/>
<rect x="594" y="2" width="1" height="25" fill="#A0A0A0"/><rect x="595" y="2" width="1" height="25" fill="#FFFFFF"/>
<rect x="900" y="2" width="1" height="25" fill="#A0A0A0"/><rect x="901" y="2" width="1" height="25" fill="#FFFFFF"/>
<rect x="1161" y="2" width="1" height="25" fill="#A0A0A0"/><rect x="1162" y="2" width="1" height="25" fill="#FFFFFF"/>
<rect x="321" y="4" width="1" height="21" fill="#A0A0A0"/><rect x="322" y="4" width="1" height="21" fill="#FFFFFF"/>
<rect x="411" y="4" width="1" height="21" fill="#A0A0A0"/><rect x="412" y="4" width="1" height="21" fill="#FFFFFF"/>
<rect x="473" y="4" width="1" height="21" fill="#A0A0A0"/><rect x="474" y="4" width="1" height="21" fill="#FFFFFF"/>
<rect x="661" y="4" width="1" height="21" fill="#A0A0A0"/><rect x="662" y="4" width="1" height="21" fill="#FFFFFF"/>
<rect x="230" y="5" width="3" height="1" fill="#9C9C9C"/>
<rect x="230" y="7" width="3" height="1" fill="#9C9C9C"/>
<rect x="230" y="9" width="3" height="1" fill="#9C9C9C"/>
<rect x="230" y="11" width="3" height="1" fill="#9C9C9C"/>
<rect x="230" y="13" width="3" height="1" fill="#9C9C9C"/>
<rect x="230" y="15" width="3" height="1" fill="#9C9C9C"/>
<rect x="230" y="17" width="3" height="1" fill="#9C9C9C"/>
<rect x="230" y="19" width="3" height="1" fill="#9C9C9C"/>
<rect x="230" y="21" width="3" height="1" fill="#9C9C9C"/>
<rect x="230" y="23" width="3" height="1" fill="#9C9C9C"/>
<rect x="598" y="5" width="3" height="1" fill="#9C9C9C"/>
<rect x="598" y="7" width="3" height="1" fill="#9C9C9C"/>
<rect x="598" y="9" width="3" height="1" fill="#9C9C9C"/>
<rect x="598" y="11" width="3" height="1" fill="#9C9C9C"/>
<rect x="598" y="13" width="3" height="1" fill="#9C9C9C"/>
<rect x="598" y="15" width="3" height="1" fill="#9C9C9C"/>
<rect x="598" y="17" width="3" height="1" fill="#9C9C9C"/>
<rect x="598" y="19" width="3" height="1" fill="#9C9C9C"/>
<rect x="598" y="21" width="3" height="1" fill="#9C9C9C"/>
<rect x="598" y="23" width="3" height="1" fill="#9C9C9C"/>
<rect x="904" y="5" width="3" height="1" fill="#9C9C9C"/>
<rect x="904" y="7" width="3" height="1" fill="#9C9C9C"/>
<rect x="904" y="9" width="3" height="1" fill="#9C9C9C"/>
<rect x="904" y="11" width="3" height="1" fill="#9C9C9C"/>
<rect x="904" y="13" width="3" height="1" fill="#9C9C9C"/>
<rect x="904" y="15" width="3" height="1" fill="#9C9C9C"/>
<rect x="904" y="17" width="3" height="1" fill="#9C9C9C"/>
<rect x="904" y="19" width="3" height="1" fill="#9C9C9C"/>
<rect x="904" y="21" width="3" height="1" fill="#9C9C9C"/>
<rect x="904" y="23" width="3" height="1" fill="#9C9C9C"/>
<rect x="264" y="3" width="26" height="23" fill="url(#dith)"/>
<rect x="264" y="3" width="26" height="1" fill="#A0A0A0"/><rect x="264" y="3" width="1" height="23" fill="#A0A0A0"/>
<rect x="264" y="25" width="26" height="1" fill="#FFFFFF"/><rect x="289" y="3" width="1" height="23" fill="#FFFFFF"/>
<rect x="416" y="3" width="26" height="23" fill="url(#dith)"/>
<rect x="416" y="3" width="26" height="1" fill="#A0A0A0"/><rect x="416" y="3" width="1" height="23" fill="#A0A0A0"/>
<rect x="416" y="25" width="26" height="1" fill="#FFFFFF"/><rect x="441" y="3" width="1" height="23" fill="#FFFFFF"/>
<rect x="444" y="3" width="26" height="23" fill="url(#dith)"/>
<rect x="444" y="3" width="26" height="1" fill="#A0A0A0"/><rect x="444" y="3" width="1" height="23" fill="#A0A0A0"/>
<rect x="444" y="25" width="26" height="1" fill="#FFFFFF"/><rect x="469" y="3" width="1" height="23" fill="#FFFFFF"/>
<rect x="604" y="3" width="26" height="23" fill="url(#dith)"/>
<rect x="604" y="3" width="26" height="1" fill="#A0A0A0"/><rect x="604" y="3" width="1" height="23" fill="#A0A0A0"/>
<rect x="604" y="25" width="26" height="1" fill="#FFFFFF"/><rect x="629" y="3" width="1" height="23" fill="#FFFFFF"/>
<rect x="1078" y="3" width="26" height="23" fill="url(#dith)"/>
<rect x="1078" y="3" width="26" height="1" fill="#A0A0A0"/><rect x="1078" y="3" width="1" height="23" fill="#A0A0A0"/>
<rect x="1078" y="25" width="26" height="1" fill="#FFFFFF"/><rect x="1103" y="3" width="1" height="23" fill="#FFFFFF"/>
</g>
<g font-family="Liberation Sans, Noto Sans CJK SC, sans-serif" font-size="12" fill="#000">
<text x="19" y="17.5">新订单</text>
<text x="171.5" y="17.5">自动交易</text>
</g>
<g font-family="Liberation Sans, DejaVu Sans, sans-serif" font-size="10.5" fill="#3A3A3A">
<text transform="translate(916,19) scale(0.93,1)">M1</text>
<text transform="translate(944,19) scale(0.93,1)">M5</text>
<text transform="translate(970,19) scale(0.93,1)">M15</text>
<text transform="translate(998,19) scale(0.93,1)">M30</text>
<text transform="translate(1029,19) scale(0.93,1)">H1</text>
<text transform="translate(1056,19) scale(0.93,1)">H4</text>
<text transform="translate(1085,19) scale(0.93,1)">D1</text>
<text transform="translate(1112,19) scale(0.93,1)">W1</text>
<text transform="translate(1139,19) scale(0.93,1)">MN</text>
</g>
<g><path d="M0.5 7.5 h8 l3 3 v10 h-11 z" fill="#fff" stroke="#8a8a8a"/><path d="M2 10.5h4M2 13.5h6M2 16.5h5" stroke="#9a9a9a"/><path d="M4.5 19 h11.5 M10.2 13.2 v11.5" stroke="#2a9a2a" stroke-width="4.2"/><path d="M5.5 19 h9.5 M10.2 14.2 v9.5" stroke="#3ee03e" stroke-width="2.4"/></g>
<path d="M67.5 16.5 L72.5 8.5 Q77 10 82.5 14 L77.5 22.5 Z" fill="url(#gold)" stroke="#a86d10" stroke-width="1"/>
<path d="M68.5 17.5 L77 22 M77.5 22 L82.5 14.5" stroke="#7a4a08" stroke-width="1.2" fill="none"/>
<path d="M70 15.5 L73 10.5 Q77 11.5 80.5 14" stroke="#fff6c0" stroke-width="1" fill="none" opacity="0.7"/>
<path d="M97.5 9.5 L100 7.5 H108.5 V16.5 H97.5 Z" fill="#1e90f0" stroke="#1a5cc0"/>
<path d="M100 7.5 V16.5" stroke="#7cc4ff"/>
<rect x="101.5" y="11" width="6" height="2" fill="#d8ecff"/>
<path d="M96 22.5 q-1.5 -4 2.5 -4 q1 -3.5 5 -2.5 q3.5 -1.5 5 1.5 q3 0 2.5 3 q0 2 -2 2 z" fill="#eef3fa" stroke="#6d8fc0"/>
<g fill="none"><circle cx="131" cy="14.5" r="7.3" stroke="#8fb0e8" stroke-width="1.3"/><path d="M131 21.8 a7.3 7.3 0 0 0 7.3 -7.3" stroke="#7dc07d" stroke-width="1.5"/><circle cx="131" cy="14.5" r="4.3" stroke="#6b95e0" stroke-width="1.2"/><path d="M131 14.5 v8" stroke="#2aa52a" stroke-width="1.8"/><circle cx="131" cy="14.5" r="1.8" fill="#1f5fd0" stroke="none"/></g>
<path d="M151 15 L166 15 L159 23 Z" fill="#f6dc50" stroke="#caa21a"/>
<ellipse cx="158.5" cy="11.5" rx="8" ry="3" fill="#5aaee6" stroke="#2f7fc0"/>
<ellipse cx="158.5" cy="9.5" rx="4.5" ry="3.5" fill="#7cc2ee" stroke="#2f7fc0"/>
<circle cx="162.5" cy="18.5" r="4.3" fill="#e3281a" stroke="#b0180a"/>
<rect x="161" y="17" width="3" height="3" fill="#fff"/>
<path d="M244.5 9 v13.5 M242 20.5 h13" stroke="#555" stroke-width="1.2" fill="none"/><path d="M242.8 11 l1.7 -2.5 l1.7 2.5 z M253.5 18.8 l2.5 1.7 l-2.5 1.7 z" fill="#555"/>
<path d="M248 17.5 h2.5 M250.5 10 v9 M250.5 11.5 h3" stroke="#0f8f0f" stroke-width="1.2" fill="none"/>
<path d="M272.5 9 v13.5 M270 20.5 h13" stroke="#555" stroke-width="1.2" fill="none"/><path d="M270.8 11 l1.7 -2.5 l1.7 2.5 z M281.5 18.8 l2.5 1.7 l-2.5 1.7 z" fill="#555"/>
<path d="M278.5 7 v12" stroke="#0a8a0a" stroke-width="1.2"/><rect x="276.5" y="9.5" width="4" height="7" fill="#62ea62" stroke="#0a8a0a"/>
<path d="M300.5 9 v13.5 M298 20.5 h13" stroke="#555" stroke-width="1.2" fill="none"/><path d="M298.8 11 l1.7 -2.5 l1.7 2.5 z M309.5 18.8 l2.5 1.7 l-2.5 1.7 z" fill="#555"/>
<path d="M299 17.5 q4 -8 7 -5 q2 2 5 3" stroke="#2a9a2a" stroke-width="1.3" fill="none"/>

<path d="M340 17 l5 5" stroke="#c9a21a" stroke-width="3.2"/>
<circle cx="336" cy="13" r="5.5" fill="#dff0fb" stroke="#2f7fd0" stroke-width="1.3"/>
<path d="M333 13 h6" stroke="#3a7ab0" stroke-width="2"/>
<path d="M336 10 v6" stroke="#3a7ab0" stroke-width="2"/>

<path d="M368 17 l5 5" stroke="#c9a21a" stroke-width="3.2"/>
<circle cx="364" cy="13" r="5.5" fill="#dff0fb" stroke="#2f7fd0" stroke-width="1.3"/>
<path d="M361 13 h6" stroke="#3a7ab0" stroke-width="2"/>
<g shape-rendering="crispEdges"><rect x="386" y="7" width="8" height="8" fill="#2aa22a"/><rect x="394" y="7" width="8" height="8" fill="#2060d8"/><rect x="386" y="15" width="8" height="8" fill="#2060d8"/><rect x="394" y="15" width="8" height="8" fill="#2aa22a"/><rect x="388" y="11" width="5" height="2" fill="#e8f6e8"/><rect x="396" y="11" width="5" height="2" fill="#e8eefc"/><rect x="388" y="19" width="5" height="2" fill="#e8eefc"/><rect x="396" y="19" width="5" height="2" fill="#e8f6e8"/></g>
<path d="M424.5 9 v13.5 M422 20.5 h13" stroke="#555" stroke-width="1.2" fill="none"/><path d="M422.8 11 l1.7 -2.5 l1.7 2.5 z M433.5 18.8 l2.5 1.7 l-2.5 1.7 z" fill="#555"/>
<path d="M429.5 11.5 l3.5 3 l-3.5 3 z" fill="#8ef08e" stroke="#0a9a0a" stroke-width="1.2"/>
<path d="M452.5 9 v13.5 M450 20.5 h13" stroke="#555" stroke-width="1.2" fill="none"/><path d="M450.8 11 l1.7 -2.5 l1.7 2.5 z M461.5 18.8 l2.5 1.7 l-2.5 1.7 z" fill="#555"/>
<path d="M458.5 9 v10" stroke="#1a6fb0" stroke-width="1.2"/><path d="M459.5 14.3 l3 -2.8 v2 h2 v1.6 h-2 v2 z" fill="#d0400a"/>
<path d="M483.5 7.5 h8 l3 3 v10 h-11 z" fill="#fff" stroke="#7a7a7a"/>
<path d="M488.5 10.5 q-1.5 0 -1.5 2 v6 M486 14.5 h3" stroke="#554433" fill="none"/>
<path d="M487 18.8 h12 M493 13 v11.5" stroke="#138a13" stroke-width="4.4"/>
<path d="M488 18.8 h10 M493 14 v9.5" stroke="#42e042" stroke-width="2.4"/>
<path d="M505 14 h6 l-3 3 z" fill="#000"/>
<path d="M544 14 h6 l-3 3 z" fill="#000"/>
<path d="M583 14 h6 l-3 3 z" fill="#000"/>
<path d="M889 14 h6 l-3 3 z" fill="#000"/>
<circle cx="529" cy="15" r="6.8" fill="#f6f9fc" stroke="#0a58c8" stroke-width="2.6"/>
<circle cx="529" cy="15" r="5.3" fill="none" stroke="#cfe2f6" stroke-width="0.8"/>
<path d="M528.3 11 L529 15 L532 15.5" stroke="#1a1a1a" stroke-width="1.1" fill="none"/>
<g fill="#9aa8b8"><circle cx="529" cy="10.2" r="0.5"/><circle cx="533.8" cy="15" r="0.5"/><circle cx="524.2" cy="15" r="0.5"/><circle cx="529" cy="19.6" r="0.6" fill="#7ab0f0"/></g>
<rect x="560.5" y="8.5" width="15" height="13" fill="#fff" stroke="#3a6fc0"/>
<rect x="561" y="9" width="14" height="2" fill="#7aa6e0"/>
<path d="M562 14.5 H564 L566 13.3 L568 12.3 L570 13.3 L572 13.3 L574 12.3" stroke="#9a2a08" stroke-width="1.2" fill="none"/>
<path d="M561 16.5 h14" stroke="#3a6fc0"/>
<path d="M563 19.5 L565 18.3 L567 19.3 L569.5 17 L571.5 18.5 L573.5 19.8" stroke="#129a12" stroke-width="1.2" fill="none"/>
<path d="M612 8 v12 l3 -3 l2.5 5 l2 -1 l-2.5 -5 h4 z" fill="#4a4a4a"/>
<path d="M644.5 8 v6 M644.5 17 v6 M637 15.5 h6 M646 15.5 h6" stroke="#444" stroke-width="1"/>
<path d="M678.5 9 v13" stroke="#444" stroke-width="1.3"/>
<path d="M701 15.5 h12" stroke="#444" stroke-width="1.3"/>
<path d="M729 21.5 L740.5 10" stroke="#444" stroke-width="1"/>
<path d="M755 16.5 L767 7 M757.5 21.5 L769.5 11.5" stroke="#4a4a4a" stroke-width="1.1"/>
<path d="M758.5 12.5 l-1 6 M761.5 10.5 l-1 6 M764.5 8.5 l-1 6 M767.5 6.5 l-1 5 M756.5 17 l11 -3" stroke="#4a4a4a" stroke-width="1"/>
<text x="765" y="23.5" font-family="Liberation Sans, sans-serif" font-size="7" font-weight="bold" fill="#444">E</text>
<g fill="#555" shape-rendering="crispEdges">
<rect x="784" y="8" width="1" height="1"/>
<rect x="786" y="8" width="1" height="1"/>
<rect x="788" y="8" width="1" height="1"/>
<rect x="790" y="8" width="1" height="1"/>
<rect x="792" y="8" width="1" height="1"/>
<rect x="794" y="8" width="1" height="1"/>
<rect x="796" y="8" width="1" height="1"/>
<rect x="784" y="11" width="1" height="1"/>
<rect x="786" y="11" width="1" height="1"/>
<rect x="788" y="11" width="1" height="1"/>
<rect x="790" y="11" width="1" height="1"/>
<rect x="792" y="11" width="1" height="1"/>
<rect x="794" y="11" width="1" height="1"/>
<rect x="796" y="11" width="1" height="1"/>
<rect x="784" y="15" width="1" height="1"/>
<rect x="786" y="15" width="1" height="1"/>
<rect x="788" y="15" width="1" height="1"/>
<rect x="790" y="15" width="1" height="1"/>
<rect x="792" y="15" width="1" height="1"/>
<rect x="794" y="15" width="1" height="1"/>
<rect x="796" y="15" width="1" height="1"/>
<rect x="784" y="19" width="1" height="1"/>
<rect x="786" y="19" width="1" height="1"/>
<rect x="788" y="19" width="1" height="1"/>
<rect x="790" y="19" width="1" height="1"/>
<rect x="792" y="19" width="1" height="1"/>
</g>
<text x="794" y="23.5" font-family="Liberation Sans, sans-serif" font-size="7" font-weight="bold" fill="#444">F</text>
<text x="814.5" y="20.5" font-family="Liberation Sans, sans-serif" font-size="12" font-weight="bold" fill="#555">A</text>
<rect x="841.5" y="9.5" width="11" height="12" fill="none" stroke="#555" stroke-dasharray="1 1.5"/>
<text x="843.5" y="19.5" font-family="Liberation Sans, sans-serif" font-size="10" font-weight="bold" fill="#555">T</text>
<path d="M867 12 l3.5 -3.5 l3.5 3.5 z M875 18 l3.5 3.5 l3.5 -3.5 z" fill="#555"/><path d="M868.5 15 l2.5 2.5 l5 -5" stroke="#555" fill="none" stroke-width="1.6"/>
<circle cx="1631.5" cy="12.5" r="4" fill="#fff" stroke="#1f62d8" stroke-width="1.3"/>
<path d="M1628.5 15.5 L1624.5 19.5" stroke="#1f62d8" stroke-width="2.4"/>
<ellipse cx="1664" cy="11.8" rx="6.3" ry="4.8" fill="#f4f4f8" stroke="#808080"/>
<ellipse cx="1655.3" cy="16" rx="5.2" ry="3.8" fill="#f4f4f8" stroke="#808080"/>
<path d="M1653 19 l-1 2.5 l3 -2" fill="#f4f4f8" stroke="#606060"/>
<path d="M1666.5 16 l1 2.5 l-3 -2" fill="#f4f4f8" stroke="#606060"/>
</svg>
<svg width="230" height="120" viewBox="0 0 230 120" style="position:absolute;left:0;top:0">
<defs><linearGradient id="btn" x1="0" y1="0" x2="0" y2="1"><stop offset="0" stop-color="#5858FF"/><stop offset="1" stop-color="#3434E4"/></linearGradient><linearGradient id="pan" x1="0" y1="0" x2="0" y2="1"><stop offset="0" stop-color="#3232DC"/><stop offset="1" stop-color="#0000AC"/></linearGradient></defs>
<g shape-rendering="crispEdges">
<rect x="4" y="75" width="109" height="40" fill="#0000A8"/>
<rect x="5" y="76" width="107" height="38" fill="url(#pan)"/>
<rect x="4" y="51" width="52" height="25" fill="#0000A8"/>
<rect x="5" y="52" width="50" height="24" fill="url(#btn)"/>
<rect x="8" y="74" width="45" height="1" fill="#0000A0"/><rect x="8" y="75" width="45" height="1" fill="#7070FF"/>
<rect x="115" y="75" width="108" height="40" fill="#0000A8"/>
<rect x="116" y="76" width="106" height="38" fill="url(#pan)"/>
<rect x="171" y="51" width="52" height="25" fill="#0000A8"/>
<rect x="172" y="52" width="50" height="24" fill="url(#btn)"/>
<rect x="175" y="74" width="45" height="1" fill="#0000A0"/><rect x="175" y="75" width="45" height="1" fill="#7070FF"/>
<rect x="58" y="51" width="111" height="22" fill="#A0A0A0"/>
<rect x="59" y="52" width="109" height="20" fill="#FFFFFF"/>
<rect x="59" y="52" width="20" height="20" fill="#E6E6E6"/><rect x="79" y="52" width="1" height="20" fill="#A0A0A0"/>
<rect x="148" y="52" width="20" height="20" fill="#E6E6E6"/><rect x="147" y="52" width="1" height="20" fill="#A0A0A0"/>
</g>
<path d="M66 61 h6 l-3 3 z" fill="#000"/>
<path d="M155 64 h6 l-3 -3 z" fill="#000"/>
<g font-family="Liberation Sans, DejaVu Sans, sans-serif" fill="#fff">
<text transform="translate(16,67) scale(0.87,1)" font-size="12.5">SELL</text>
<text transform="translate(183.5,67) scale(0.92,1)" font-size="12.5">BUY</text>
<text x="27.5" y="106" font-size="12.5" font-weight="bold">142</text>
<text transform="translate(51,106.5) scale(0.89,1)" font-size="36">95</text>
<text x="91.5" y="89.5" font-size="11.5" font-weight="bold">3</text>
<text x="137" y="106" font-size="12.5" font-weight="bold">142</text>
<text transform="translate(162.5,106.5) scale(0.89,1)" font-size="36">99</text>
<text x="202.5" y="89.5" font-size="11.5" font-weight="bold">0</text>
</g>
<text x="121" y="66" font-family="Liberation Sans, DejaVu Sans, sans-serif" font-size="12" fill="#000">1.00</text>
</svg>
</body></html>
